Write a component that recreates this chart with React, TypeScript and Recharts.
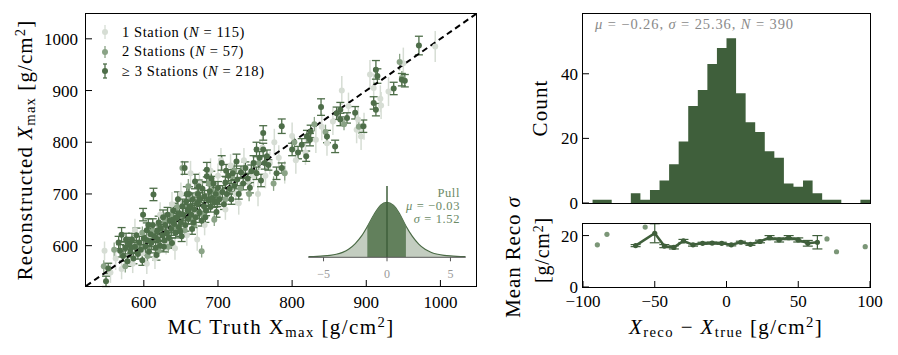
import {
  Area,
  ComposedChart,
  ErrorBar,
  Line,
  ReferenceLine,
  Scatter,
  ScatterChart,
  XAxis,
  YAxis,
} from "recharts";

const FONT = '"Liberation Serif", "Times New Roman", serif';
const MINUS = "\u2212";
const GREEN = "#3f5f3b";
const DARK_PT = "#4e6e49";
const MID_PT = "#8aa386";
const LIGHT_PT = "#d6ddd4";

// [MC truth, reconstructed, sigma]
const oneStation: [number, number, number][] = [
  [547, 590, 18], [555, 548, 20], [562, 575, 22], [570, 555, 20], [585, 565, 18],
  [598, 585, 20], [608, 620, 22], [615, 575, 20], [622, 660, 24], [630, 605, 22],
  [638, 680, 24], [645, 640, 22], [650, 700, 22], [658, 620, 20], [663, 740, 24],
  [668, 665, 20], [675, 720, 22], [682, 640, 20], [690, 745, 24], [696, 700, 20],
  [704, 765, 24], [710, 670, 20], [717, 755, 22], [724, 700, 22], [735, 765, 24],
  [741, 725, 20], [748, 735, 22], [754, 700, 24], [760, 790, 24], [770, 760, 22],
  [776, 800, 26], [782, 770, 24], [790, 742, 22], [800, 812, 26], [818, 780, 24],
  [832, 805, 26], [847, 798, 24], [855, 840, 26], [867, 900, 28], [876, 870, 26],
  [887, 824, 26], [889, 844, 24], [893, 811, 26], [897, 831, 26], [905, 931, 28],
  [919, 884, 26], [920, 871, 26], [930, 898, 28], [950, 953, 30], [993, 985, 30],
  [588, 630, 22], [604, 565, 20], [642, 595, 22], [672, 612, 22], [700, 735, 24],
  [728, 682, 22], [764, 735, 24], [805, 765, 26], [840, 830, 26], [910, 905, 28],
];

const twoStations: [number, number, number][] = [
  [546, 560, 12], [560, 592, 14], [575, 560, 12], [590, 600, 14], [605, 580, 12],
  [612, 628, 14], [620, 590, 12], [628, 650, 14], [633, 598, 12], [640, 635, 14],
  [645, 675, 14], [652, 750, 14], [655, 630, 12], [660, 715, 14], [665, 650, 12],
  [672, 700, 14], [678, 589, 12], [680, 660, 12], [688, 720, 14], [695, 650, 12],
  [700, 700, 12], [710, 690, 12], [718, 735, 14], [730, 710, 12], [742, 700, 14],
  [755, 760, 14], [775, 720, 14], [790, 740, 14], [803, 800, 14], [830, 835, 14],
  [845, 820, 14], [870, 835, 12], [890, 830, 14], [948, 924, 14], [945, 955, 16],
  [598, 625, 12], [636, 660, 14], [668, 640, 12], [692, 705, 14], [722, 745, 14],
];

const threeStations: [number, number, number][] = [
  [549, 531, 10], [552, 556, 10], [566, 606, 12], [568, 590, 12], [570, 621, 14],
  [572, 580, 10], [575, 596, 12], [578, 570, 10], [580, 604, 12], [582, 588, 10],
  [584, 612, 12], [586, 575, 10], [588, 598, 12], [590, 620, 14], [592, 584, 10],
  [594, 606, 12], [596, 592, 10], [598, 572, 10], [599, 660, 12], [600, 614, 12],
  [602, 598, 12], [604, 630, 14], [605, 610, 10], [607, 588, 10], [609, 622, 12],
  [610, 605, 12], [612, 640, 12], [613, 699, 12], [614, 618, 10], [616, 596, 10],
  [618, 628, 12], [619, 612, 12], [620, 645, 12], [622, 600, 10], [623, 634, 12],
  [625, 620, 12], [626, 655, 14], [628, 610, 10], [629, 640, 12], [631, 625, 12],
  [632, 660, 14], [634, 615, 10], [635, 648, 12], [637, 632, 12], [638, 605, 10],
  [640, 668, 14], [641, 642, 12], [643, 625, 10], [644, 655, 12], [646, 690, 14],
  [647, 636, 12], [648, 662, 12], [650, 645, 12], [651, 618, 10], [652, 676, 14],
  [653, 660, 12], [655, 750, 12], [656, 640, 12], [657, 685, 12], [659, 668, 12],
  [660, 652, 10], [661, 700, 14], [663, 676, 12], [664, 660, 12], [665, 632, 10],
  [666, 690, 12], [668, 670, 12], [669, 724, 14], [670, 655, 10], [672, 682, 12],
  [673, 700, 12], [675, 664, 12], [676, 690, 12], [678, 648, 10], [679, 710, 14],
  [681, 676, 12], [682, 695, 12], [684, 668, 10], [685, 747, 14], [685, 734, 12],
  [687, 688, 12], [689, 705, 12], [690, 675, 10], [692, 692, 12], [694, 720, 14],
  [695, 684, 10], [697, 700, 12], [698, 665, 10], [700, 712, 12], [702, 690, 10],
  [705, 760, 14], [706, 704, 12], [708, 680, 10], [710, 722, 12], [712, 700, 12],
  [714, 735, 12], [716, 710, 10], [718, 690, 10], [720, 740, 14], [722, 716, 12],
  [725, 763, 14], [726, 728, 12], [728, 700, 10], [731, 742, 12], [734, 720, 12],
  [737, 750, 12], [740, 730, 10], [743, 712, 10], [745, 744, 12], [748, 760, 14],
  [752, 740, 12], [752, 786, 14], [756, 770, 12], [758, 726, 12], [761, 786, 12],
  [761, 818, 14], [763, 760, 12], [766, 773, 12], [768, 756, 10], [779, 740, 12],
  [786, 831, 14], [786, 750, 10], [800, 786, 12], [808, 780, 12], [813, 795, 12],
  [819, 773, 10], [820, 811, 12], [824, 805, 12], [825, 821, 12], [839, 868, 16],
  [847, 811, 12], [858, 792, 12], [860, 856, 12], [865, 863, 14], [865, 844, 12],
  [874, 847, 10], [885, 857, 12], [896, 831, 12], [910, 876, 12], [913, 863, 12],
  [913, 940, 18], [915, 928, 14], [937, 904, 12], [948, 921, 12], [952, 919, 12],
  [971, 987, 18], [576, 612, 12], [583, 596, 10], [606, 640, 12], [617, 582, 10],
  [627, 598, 10], [639, 650, 12], [649, 628, 10], [658, 700, 14], [667, 645, 10],
  [674, 715, 12], [683, 655, 10], [691, 730, 14], [699, 686, 10], [711, 745, 12],
];

const xmaxTicks = [600, 700, 800, 900, 1000];

// histogram of Xreco - Xtrue
const histEdges = [
  -100, -93.33, -86.67, -80, -73.33, -66.67, -60, -53.33, -46.67, -40, -33.33,
  -26.67, -20, -13.33, -6.67, 0, 6.67, 13.33, 20, 26.67, 33.33, 40, 46.67,
  53.33, 60, 66.67, 73.33, 80, 86.67, 93.33, 100,
];
const histCounts = [
  0, 1, 1, 0, 0, 3, 1, 4, 7, 12, 19, 30, 35, 43, 48, 51, 34, 25, 22, 16, 14, 6,
  5, 7, 3, 1, 1, 0, 0, 1,
];

// mean reco sigma per bin [centre, sigma, err]
const sigmaLine: [number, number, number][] = [
  [-63.33, 16.1, 0.4], [-50, 20.9, 3.7], [-43.33, 15.9, 0.6], [-36.67, 15.4, 0.6],
  [-30, 17.9, 0.6], [-23.33, 16.4, 0.5], [-16.67, 17.0, 0.4], [-10, 17.1, 0.4],
  [-3.33, 17.0, 0.4], [3.33, 16.4, 0.4], [10, 17.4, 0.4], [16.67, 16.6, 0.4],
  [23.33, 17.7, 0.5], [30, 19.2, 0.8], [36.67, 18.3, 0.8], [43.33, 19.2, 0.8],
  [50, 18.3, 0.8], [56.67, 17.0, 1.1], [63.33, 17.4, 2.6],
];
const sigmaSingles: [number, number][] = [
  [-90, 16.4], [-83.33, 20.5], [-56.67, 23.3], [70, 18.7], [76.67, 13.7], [96.67, 15.7],
];

// pull distribution inset
const pullX = [
  -6.2, -5.5, -5, -4.5, -4, -3.5, -3, -2.5, -2, -1.55, -1, -0.5, -0.03, 0.5, 1,
  1.49, 2, 2.5, 3, 3.5, 4, 4.5, 5, 5.5, 6.2,
];
const pullDensity = [
  0.012, 0.018, 0.025, 0.036, 0.055, 0.09, 0.15, 0.25, 0.39, 0.56, 0.79, 0.95,
  1.0, 0.95, 0.79, 0.57, 0.38, 0.24, 0.145, 0.088, 0.055, 0.036, 0.025, 0.018,
  0.012,
];

const toPts = (arr: [number, number, number][]) =>
  arr.map(([x, y, e]) => ({ x, y, e }));

const histRows = histEdges.map((x, i) => ({
  x,
  count: i < histCounts.length ? histCounts[i] : 0,
}));
const sigmaRows = sigmaLine.map(([x, y, e]) => ({ x, y, e }));
const singleRows = sigmaSingles.map(([x, y]) => ({ x, y }));
const pullRows = pullX.map((x, i) => ({
  x,
  d: pullDensity[i],
  core: x >= -1.55 && x <= 1.49 ? pullDensity[i] : null,
}));

const fmt = (v: number) => (v < 0 ? MINUS + Math.abs(v) : String(v));
const tickFont = { fill: "#000", fontSize: 17, fontFamily: FONT };

const dot = (color: string, r = 3) => (p: any) =>
  <circle cx={p.cx} cy={p.cy} r={r} fill={color} />;

const Frame = ({ l, t, r, b }: { l: number; t: number; r: number; b: number }) => (
  <div
    style={{
      position: "absolute",
      left: l - 0.75,
      top: t - 0.75,
      width: r - l + 1.5,
      height: b - t + 1.5,
      border: "1.5px solid #000",
      boxSizing: "border-box",
      pointerEvents: "none",
    }}
  />
);

const sub = { fontSize: "0.7em", verticalAlign: "-0.25em", lineHeight: 0 } as const;
const sup = { fontSize: "0.7em", verticalAlign: "0.45em", lineHeight: 0 } as const;

const abs = (
  left: number,
  top: number,
  extra: React.CSSProperties = {}
): React.CSSProperties => ({
  position: "absolute",
  left,
  top,
  whiteSpace: "nowrap",
  lineHeight: 1,
  ...extra,
});

const LegendMark = ({ color, err, cap }: { color: string; err: number; cap: boolean }) => (
  <svg width={14} height={20} style={{ display: "block" }}>
    <line x1={7} x2={7} y1={10 - err} y2={10 + err} stroke={color} strokeWidth={1.3} />
    {cap && (
      <>
        <line x1={5} x2={9} y1={10 - err} y2={10 - err} stroke={color} strokeWidth={1.3} />
        <line x1={5} x2={9} y1={10 + err} y2={10 + err} stroke={color} strokeWidth={1.3} />
      </>
    )}
    <circle cx={7} cy={10} r={3} fill={color} />
  </svg>
);

const legendItems = [
  { color: LIGHT_PT, err: 7, cap: false, label: "1 Station", n: "115", geq: false },
  { color: MID_PT, err: 6, cap: false, label: "2 Stations", n: "57", geq: false },
  { color: DARK_PT, err: 7, cap: true, label: "3 Stations", n: "218", geq: true },
];

const insetText = { fontSize: 12.5, color: "#6b8a66", letterSpacing: 0.6, textAlign: "right" } as const;

export default function App() {
  return (
    <div
      style={{
        position: "absolute",
        left: 0,
        top: 0,
        width: 898,
        height: 355,
        background: "#fff",
        overflow: "hidden",
        fontFamily: FONT,
        color: "#000",
      }}
    >
      {/* scatter: reco vs truth */}
      <div style={{ position: "absolute", left: 0, top: 0 }}>
        <ScatterChart width={480} height={320} margin={{ top: 14, right: 4, bottom: 0, left: 0 }}>
          <XAxis
            type="number"
            dataKey="x"
            domain={[522, 1048]}
            ticks={xmaxTicks}
            interval={0}
            allowDataOverflow
            height={34}
            axisLine={false}
            stroke="#000"
            tickSize={-6}
            tickMargin={16}
            tick={tickFont}
          />
          <YAxis
            type="number"
            dataKey="y"
            domain={[522, 1048]}
            ticks={xmaxTicks}
            interval={0}
            allowDataOverflow
            width={86}
            axisLine={false}
            stroke="#000"
            tickSize={-6}
            tickMargin={14}
            tick={tickFont}
          />
          <Scatter data={toPts(oneStation)} shape={dot(LIGHT_PT)} isAnimationActive={false}>
            <ErrorBar dataKey="e" direction="y" width={0} stroke={LIGHT_PT} strokeWidth={1.5} />
          </Scatter>
          <Scatter data={toPts(twoStations)} shape={dot(MID_PT)} isAnimationActive={false}>
            <ErrorBar dataKey="e" direction="y" width={0} stroke={MID_PT} strokeWidth={1.3} />
          </Scatter>
          <Scatter data={toPts(threeStations)} shape={dot(DARK_PT)} isAnimationActive={false}>
            <ErrorBar dataKey="e" direction="y" width={4} stroke={DARK_PT} strokeWidth={1.3} />
          </Scatter>
          <ReferenceLine
            segment={[
              { x: 522, y: 522 },
              { x: 1048, y: 1048 },
            ]}
            stroke="#000"
            strokeWidth={2}
            strokeDasharray="6 4"
            ifOverflow="visible"
          />
        </ScatterChart>
      </div>
      <Frame l={86} t={14} r={476} b={286} />

      {/* legend */}
      {legendItems.map((it, i) => (
        <div
          key={it.label}
          style={abs(98, 22 + i * 19.6, { display: "flex", alignItems: "center", fontSize: 14.5, letterSpacing: 0.6 })}
        >
          <LegendMark color={it.color} err={it.err} cap={it.cap} />
          <span style={{ marginLeft: 10 }}>
            {it.geq ? "\u2265 " : ""}
            {it.label} (<i>N</i> = {it.n})
          </span>
        </div>
      ))}

      {/* pull inset */}
      <div style={{ position: "absolute", left: 300, top: 180 }}>
        <ComposedChart
          width={170}
          height={100}
          data={pullRows}
          margin={{ top: 6, right: 4.3, bottom: 0, left: 8.3 }}
        >
          <XAxis
            type="number"
            dataKey="x"
            domain={[-6.2, 6.2]}
            ticks={[-5, 0, 5]}
            interval={0}
            allowDataOverflow
            height={22.7}
            stroke="#555"
            tickSize={4}
            tickMargin={8}
            tickFormatter={fmt}
            tick={{ fill: "#9a9a9a", fontSize: 12, fontFamily: FONT }}
          />
          <YAxis hide domain={[0, 1.3]} allowDataOverflow />
          <Area
            type="monotone"
            dataKey="d"
            stroke="#4a6a45"
            strokeWidth={1.2}
            fill="#c3cdc0"
            fillOpacity={1}
            isAnimationActive={false}
          />
          <Area
            type="monotone"
            dataKey="core"
            stroke="none"
            fill="#62805c"
            fillOpacity={1}
            isAnimationActive={false}
          />
          <ReferenceLine x={0} stroke={GREEN} strokeWidth={1.5} />
        </ComposedChart>
      </div>
      <div style={abs(360, 186.5, { ...insetText, width: 100 })}>Pull</div>
      <div style={abs(340, 199.5, { ...insetText, width: 120 })}>
        <i>μ</i> = {MINUS}0.03
      </div>
      <div style={abs(340, 212.5, { ...insetText, width: 120 })}>
        <i>σ</i> = 1.52
      </div>

      {/* left axis titles */}
      <div
        style={abs(25, 150, {
          fontSize: 21,
          letterSpacing: 1.1,
          transform: "translate(-50%, -50%) rotate(-90deg)",
        })}
      >
        Reconstructed <i>X</i>
        <span style={sub}>max</span> [g/cm<span style={sup}>2</span>]
      </div>
      <div style={abs(281, 327, { fontSize: 21, letterSpacing: 1.4, transform: "translate(-50%, -50%)" })}>
        MC Truth X<span style={sub}>max</span> [g/cm<span style={sup}>2</span>]
      </div>

      {/* histogram */}
      <div style={{ position: "absolute", left: 480, top: 0 }}>
        <ComposedChart width={418} height={218} data={histRows} margin={{ top: 14, right: 28, bottom: 0, left: 0 }}>
          <XAxis
            type="number"
            dataKey="x"
            domain={[-100, 100]}
            ticks={[-100, -50, 0, 50, 100]}
            interval={0}
            allowDataOverflow
            height={15}
            axisLine={false}
            stroke="#000"
            tickSize={-6}
            tick={false}
          />
          <YAxis
            domain={[0, 58.5]}
            ticks={[0, 20, 40]}
            interval={0}
            allowDataOverflow
            width={103}
            axisLine={false}
            stroke="#000"
            tickSize={-6}
            tickMargin={11}
            tick={tickFont}
          />
          <Area
            type="stepAfter"
            dataKey="count"
            stroke="none"
            fill={GREEN}
            fillOpacity={1}
            isAnimationActive={false}
          />
        </ComposedChart>
      </div>
      <Frame l={583} t={14} r={870} b={203} />
      <div style={abs(595, 17, { fontSize: 14.5, color: "#8a8a8a", letterSpacing: 0.9 })}>
        <i>μ</i> = {MINUS}0.26, <i>σ</i> = 25.36, <i>N</i> = 390
      </div>
      <div
        style={abs(540, 108, {
          fontSize: 21,
          letterSpacing: 1.1,
          transform: "translate(-50%, -50%) rotate(-90deg)",
        })}
      >
        Count
      </div>

      {/* mean reco sigma */}
      <div style={{ position: "absolute", left: 480, top: 218 }}>
        <ComposedChart width={418} height={137} margin={{ top: 6, right: 28, bottom: 0, left: 0 }}>
          <XAxis
            type="number"
            dataKey="x"
            domain={[-100, 100]}
            ticks={[-100, -50, 0, 50, 100]}
            interval={0}
            allowDataOverflow
            height={68}
            axisLine={false}
            stroke="#000"
            tickSize={-6}
            tickMargin={14}
            tickFormatter={fmt}
            tick={tickFont}
          />
          <YAxis
            type="number"
            dataKey="y"
            domain={[0, 24.5]}
            ticks={[0, 20]}
            interval={0}
            allowDataOverflow
            width={103}
            axisLine={false}
            stroke="#000"
            tickSize={-6}
            tickMargin={11}
            tick={tickFont}
          />
          <Line
            data={sigmaRows}
            dataKey="y"
            stroke={GREEN}
            strokeWidth={2.5}
            dot={{ r: 2.6, fill: GREEN, stroke: GREEN, strokeWidth: 0 }}
            isAnimationActive={false}
          >
            <ErrorBar dataKey="e" direction="y" width={5} stroke={GREEN} strokeWidth={1.2} />
          </Line>
          <Scatter data={singleRows} dataKey="y" shape={dot("#7b9677", 2.6)} isAnimationActive={false} />
        </ComposedChart>
      </div>
      <Frame l={583} t={224} r={870} b={287} />
      <div
        style={abs(513, 257, {
          fontSize: 21,
          letterSpacing: 0.9,
          transform: "translate(-50%, -50%) rotate(-90deg)",
        })}
      >
        Mean Reco <i>σ</i>
      </div>
      <div
        style={abs(542, 250, {
          fontSize: 20,
          letterSpacing: 0.8,
          transform: "translate(-50%, -50%) rotate(-90deg)",
        })}
      >
        [g/cm<span style={sup}>2</span>]
      </div>
      <div style={abs(726, 327, { fontSize: 21, letterSpacing: 1.4, transform: "translate(-50%, -50%)" })}>
        <i>X</i>
        <span style={sub}>reco</span> {MINUS} <i>X</i>
        <span style={sub}>true</span> [g/cm<span style={sup}>2</span>]
      </div>
    </div>
  );
}
